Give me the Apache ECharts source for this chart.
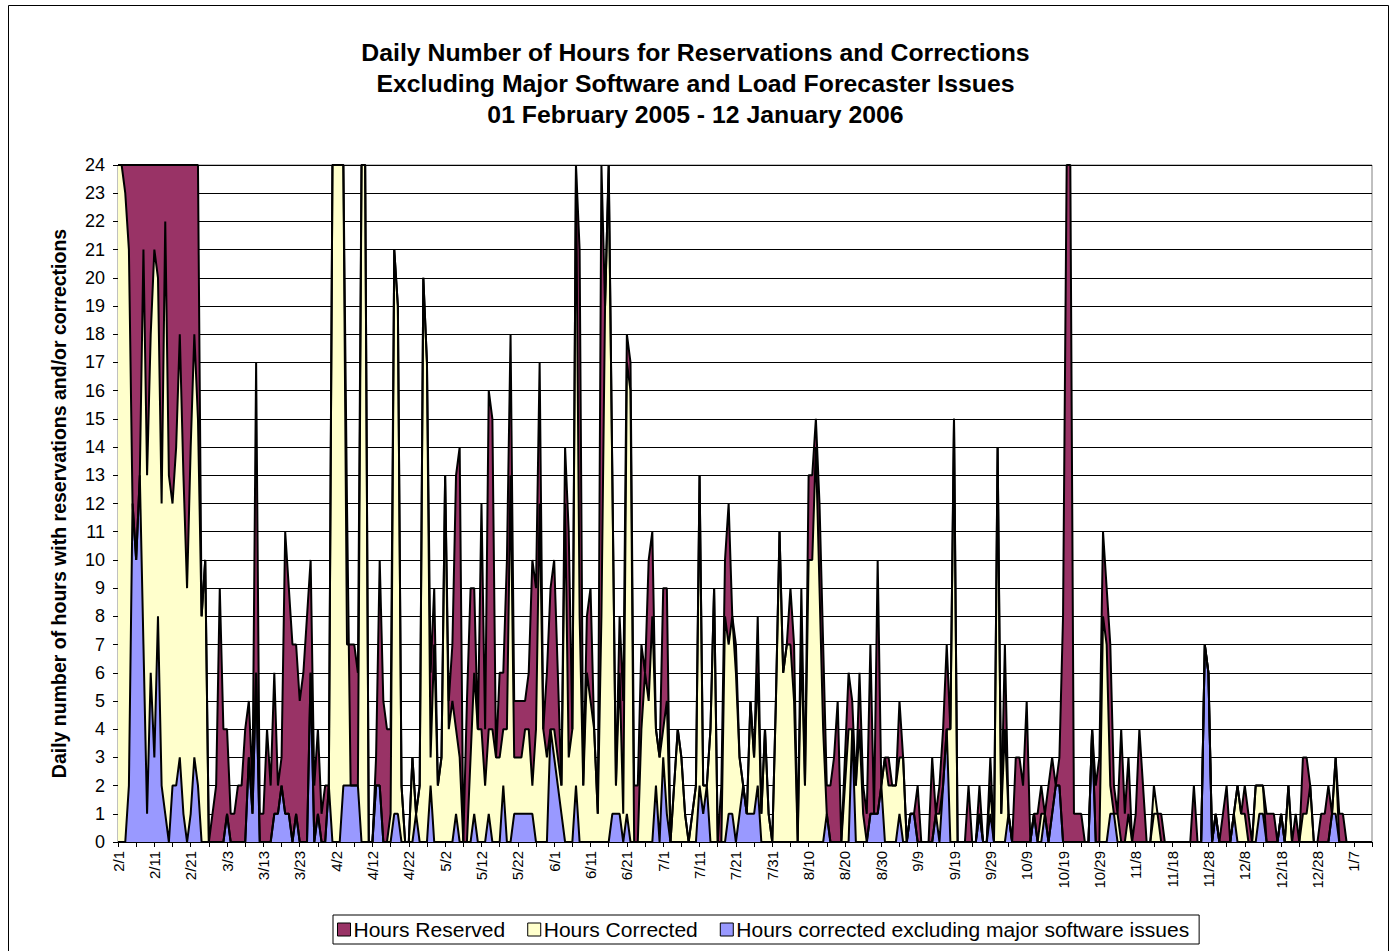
<!DOCTYPE html>
<html>
<head>
<meta charset="utf-8">
<script src="https://cdn.jsdelivr.net/npm/echarts@6/dist/echarts.min.js"></script>
<style>
html,body{margin:0;padding:0;background:#fff;}
#chart{width:1391px;height:951px;}
</style>
</head>
<body>
<div id="chart"></div>
<script>
// Daily values, 01 Feb 2005 (index 0) to 12 Jan 2006 (index 345)
const hoursReserved = [
  24,24,24,24,24,24,24,24,24,24,
  24,24,24,24,24,24,24,24,24,24,
  24,24,24,8,10,0,1,2,9,4,
  4,1,1,2,2,4,5,2,17,1,
  1,4,2,6,2,3,11,9,7,7,
  5,6,8,10,2,4,1,2,2,24,
  24,24,24,7,7,7,6,24,24,0,
  0,3,10,5,4,4,21,19,2,0,
  0,3,1,2,20,17,6,9,2,3,
  13,5,7,13,14,0,5,9,9,4,
  12,4,16,15,3,6,6,10,18,5,
  5,5,5,6,10,9,17,4,6,9,
  10,6,2,14,11,4,24,21,2,8,
  9,4,1,24,19,24,13,2,8,5,
  18,17,2,2,7,6,10,11,4,3,
  9,9,0,2,4,3,1,0,1,2,
  13,2,2,4,9,0,2,10,12,8,
  7,3,2,1,5,3,8,1,4,1,
  0,5,11,6,7,9,7,0,9,2,
  13,13,15,12,7,2,2,3,5,0,
  3,6,5,2,6,2,1,7,1,10,
  2,3,3,2,2,5,3,0,1,1,
  2,0,0,0,3,1,2,4,7,4,
  15,0,0,0,2,0,0,2,0,0,
  3,0,14,1,7,1,0,3,3,2,
  5,0,1,1,2,1,2,3,2,3,
  8,24,24,1,1,1,0,0,4,2,
  3,11,9,7,2,1,4,1,3,0,
  1,4,2,0,0,1,1,1,0,0,
  0,0,0,0,0,0,2,0,0,7,
  6,0,1,0,1,2,0,1,2,1,
  2,1,0,2,2,2,1,1,1,0,
  1,0,2,0,1,0,3,3,2,0,
  0,1,1,2,1,3,1,1,0,0,
  0,0,0,0,0,0
];
const hoursCorrected = [
  24,24,23,21,12,10,13,21,13,18,
  21,20,12,22,13,12,14,18,13,9,
  14,18,15,8,10,0,0,0,0,0,
  1,0,0,0,0,0,3,1,6,0,
  0,0,0,1,1,2,1,1,0,1,
  0,0,0,6,0,1,0,0,2,24,
  24,24,24,12,2,2,2,24,24,0,
  0,2,2,0,0,1,21,19,2,0,
  0,3,1,2,20,17,3,7,2,3,
  13,4,5,4,3,0,0,3,6,4,
  4,2,4,4,3,3,4,4,13,3,
  3,3,4,4,2,4,12,4,3,4,
  4,3,2,12,3,4,24,8,2,6,
  5,4,1,8,19,24,13,2,6,1,
  17,16,0,0,4,6,5,8,4,3,
  4,5,0,2,4,3,1,0,1,2,
  13,2,2,4,9,0,0,8,7,8,
  6,3,2,1,5,3,6,1,4,1,
  0,5,11,6,7,7,5,0,7,2,
  10,10,14,9,4,1,0,0,0,0,
  2,4,4,2,4,1,0,1,1,1,
  2,3,2,2,2,3,3,0,1,1,
  0,0,0,0,0,1,1,2,4,4,
  15,0,0,0,0,0,0,1,0,0,
  2,0,14,1,4,1,0,0,0,0,
  0,0,1,0,1,1,0,1,2,2,
  0,0,0,0,0,0,0,0,4,0,
  0,8,7,2,1,1,0,0,1,0,
  0,0,0,0,0,2,1,0,0,0,
  0,0,0,0,0,0,0,0,0,7,
  6,0,1,0,0,0,0,1,2,1,
  1,0,0,2,2,2,0,0,0,0,
  1,0,2,0,0,0,1,1,2,0,
  0,0,0,0,1,3,0,0,0,0,
  0,0,0,0,0,0
];
const hoursCorrectedExSoftware = [
  0,0,0,2,12,10,13,7,1,6,
  3,8,2,1,0,2,2,3,1,0,
  1,3,2,0,0,0,0,0,0,0,
  1,0,0,0,0,0,3,1,6,0,
  0,0,0,1,1,2,1,1,0,1,
  0,0,0,6,0,1,0,0,2,0,
  0,0,2,2,2,2,2,0,0,0,
  0,2,2,0,0,0,1,1,0,0,
  0,0,1,0,0,0,2,0,0,0,
  0,0,0,1,0,0,0,0,1,0,
  0,0,1,0,0,0,2,0,0,1,
  1,1,1,1,1,0,0,0,0,4,
  3,2,1,0,0,0,2,0,0,0,
  0,0,0,0,0,0,1,1,1,0,
  1,0,0,0,0,0,0,0,2,0,
  3,1,0,0,0,0,0,0,0,0,
  2,1,2,0,0,0,0,0,1,1,
  0,1,2,1,1,1,2,0,0,0,
  0,0,0,0,0,0,0,0,0,0,
  0,0,0,0,0,1,0,0,0,0,
  0,0,4,0,0,0,0,1,1,1,
  2,0,0,0,0,1,0,0,1,1,
  0,0,0,0,0,1,0,2,4,0,
  0,0,0,0,0,0,0,1,0,0,
  1,0,0,0,0,1,0,0,0,0,
  0,0,1,0,0,1,0,1,2,2,
  0,0,0,0,0,0,0,0,4,0,
  0,0,0,1,1,0,0,0,0,0,
  0,0,0,0,0,0,0,0,0,0,
  0,0,0,0,0,0,0,0,0,7,
  6,0,1,0,0,0,0,1,0,0,
  0,0,0,0,1,1,0,0,0,0,
  1,0,0,0,0,0,0,0,0,0,
  0,0,0,0,1,1,0,0,0,0,
  0,0,0,0,0,0
];
const seriesNames = ['Hours Reserved', 'Hours Corrected', 'Hours corrected excluding major software issues'];
const titleLines = ['Daily Number of Hours for Reservations and Corrections', 'Excluding Major Software and Load Forecaster Issues', '01 February 2005 - 12 January 2006'];
const yAxisTitle = 'Daily number of hours with reservations and/or corrections';

// category labels m/d for each day
const days = [];
(function(){
  const start = new Date(Date.UTC(2005, 1, 1));
  for (let i = 0; i < hoursReserved.length; i++) {
    const d = new Date(start.getTime() + i * 86400000);
    days.push((d.getUTCMonth() + 1) + '/' + d.getUTCDate());
  }
})();

const colors = ['#993366', '#FFFFCC', '#9999FF'];
const FONT = 'Arial, "Liberation Sans", sans-serif';

const chart = echarts.init(document.getElementById('chart'), null, {renderer: 'svg'});
const mk = (name, data, color) => ({
  name: name,
  type: 'line',
  data: data,
  symbol: 'none',
  silent: true,
  itemStyle: {color: color},
  lineStyle: {color: '#000', width: 2},
  areaStyle: {color: color, opacity: 1, origin: 'start'}
});

chart.setOption({
  animation: false,
  backgroundColor: '#fff',
  title: {
    text: titleLines.join('\n'),
    left: 'center',
    top: 37,
    padding: [0, 0, 0, 12],
    textStyle: {fontFamily: FONT, fontSize: 24.8, fontWeight: 'bold', color: '#000', lineHeight: 31}
  },
  graphic: [{
    type: 'rect', silent: true, z: -1,
    shape: {x: 8.5, y: 5.5, width: 1380, height: 960},
    style: {fill: 'none', stroke: '#000', lineWidth: 1}
  }],
  legend: {
    left: 333, top: 915,
    padding: [4, 10, 4, 4],
    itemGap: 22,
    itemWidth: 13, itemHeight: 13,
    borderColor: '#000', borderWidth: 1,
    icon: 'rect',
    selectedMode: false,
    textStyle: {fontFamily: FONT, fontSize: 21, color: '#000', padding: [0, 0, 0, -2]},
    data: seriesNames.map((n, i) => ({name: n, icon: 'rect', itemStyle: {color: colors[i], borderColor: '#000', borderWidth: 1}}))
  },
  grid: {left: 118, right: 19, top: 165, bottom: 109, show: true, borderColor: '#808080', borderWidth: 1, backgroundColor: 'transparent'},
  xAxis: {
    type: 'category',
    data: days,
    boundaryGap: false,
    axisLine: {lineStyle: {color: '#000', width: 1}},
    axisTick: {show: true, interval: 4, length: 5, lineStyle: {color: '#000'}},
    axisLabel: {interval: 9, rotate: 90, fontFamily: FONT, fontSize: 15, color: '#000', margin: 9},
    splitLine: {show: false}
  },
  yAxis: {
    type: 'value',
    min: 0, max: 24, interval: 1,
    name: yAxisTitle,
    nameLocation: 'middle',
    nameRotate: 90,
    nameGap: 49,
    nameTextStyle: {fontFamily: FONT, fontSize: 19.5, fontWeight: 'bold', color: '#000'},
    axisLine: {show: true, lineStyle: {color: '#000', width: 1}},
    axisTick: {show: true, length: 5, lineStyle: {color: '#000'}},
    axisLabel: {fontFamily: FONT, fontSize: 18, color: '#000', margin: 13},
    splitLine: {show: true, lineStyle: {color: '#000', width: 1}}
  },
  series: [
    mk(seriesNames[0], hoursReserved, colors[0]),
    mk(seriesNames[1], hoursCorrected, colors[1]),
    mk(seriesNames[2], hoursCorrectedExSoftware, colors[2])
  ]
});
</script>
</body>
</html>
